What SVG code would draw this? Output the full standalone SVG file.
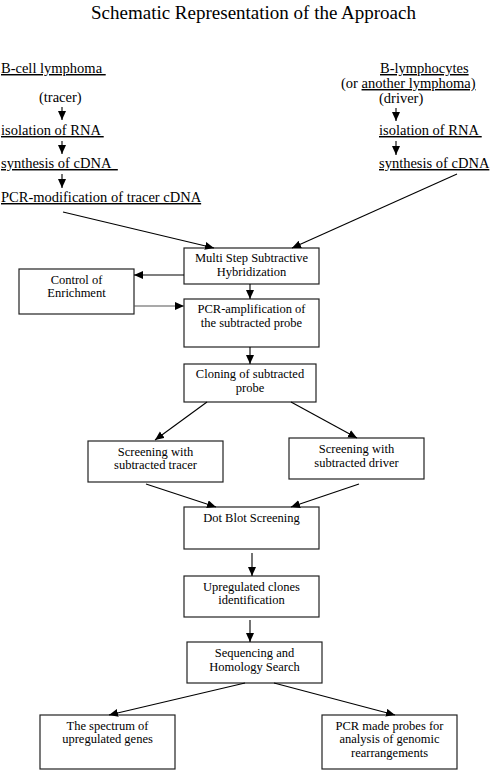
<svg xmlns="http://www.w3.org/2000/svg" width="492" height="771" viewBox="0 0 492 771">
<defs>
<marker id="ah" markerWidth="10" markerHeight="10" refX="9" refY="4" orient="auto" markerUnits="userSpaceOnUse">
<path d="M0,0 L9,4 L0,8 Z" fill="#000"/>
</marker>
<style>
text{font-family:"Liberation Serif","Times New Roman",serif;fill:#000}
.title{font-size:19px;font-family:"Liberation Serif","Times New Roman",serif}
.top{font-size:14.5px;font-family:"Liberation Serif","Times New Roman",serif}
.u{text-decoration:underline}
.bx{font-size:12.5px;text-anchor:middle;font-family:"Liberation Serif","Times New Roman",serif}
rect{fill:#fff;stroke:#222;stroke-width:1.2}
.c line{stroke:#000;stroke-width:1.1;marker-end:url(#ah)}
</style>
</defs>
<rect x="0" y="0" width="492" height="771" style="stroke:none"/>
<text class="title" x="253.5" y="19" text-anchor="middle">Schematic Representation of the Approach</text>

<g id="tracer-col">
<text class="top u" x="1" y="73" xml:space="preserve">B-cell lymphoma </text>
<text class="top" x="39" y="102">(tracer)</text>
<text class="top u" x="1" y="135" xml:space="preserve">isolation of RNA </text>
<text class="top u" x="1" y="168" xml:space="preserve">synthesis of cDNA  </text>
<text class="top u" x="1" y="202">PCR-modification of tracer cDNA</text>
</g>
<g id="driver-col">
<text class="top u" x="380" y="73">B-lymphocytes</text>
<text class="top" x="341" y="88">(or <tspan class="u">another lymphoma)</tspan></text>
<text class="top" x="379" y="103">(driver)</text>
<text class="top u" x="379" y="135" xml:space="preserve">isolation of RNA </text>
<text class="top u" x="379" y="168">synthesis of cDNA</text>
</g>

<g id="multi"><rect x="184" y="248" width="135" height="36"/><text class="bx" x="251.5" y="262">Multi Step Subtractive</text><text class="bx" x="251.5" y="276">Hybridization</text></g>
<g id="control"><rect x="19" y="269" width="115" height="45"/><text class="bx" x="76.5" y="284">Control of</text><text class="bx" x="76.5" y="297">Enrichment</text></g>
<g id="pcramp"><rect x="184" y="299" width="135" height="48"/><text class="bx" x="251.5" y="313">PCR-amplification of</text><text class="bx" x="251.5" y="327">the subtracted probe</text></g>
<g id="cloning"><rect x="184" y="364" width="132" height="38"/><text class="bx" x="250" y="378">Cloning of subtracted</text><text class="bx" x="250" y="392">probe</text></g>
<g id="scr-tracer"><rect x="88" y="441" width="135" height="41"/><text class="bx" x="155.5" y="456">Screening with</text><text class="bx" x="155.5" y="469">subtracted tracer</text></g>
<g id="scr-driver"><rect x="289" y="438" width="135" height="41"/><text class="bx" x="356.5" y="453">Screening with</text><text class="bx" x="356.5" y="467">subtracted driver</text></g>
<g id="dotblot"><rect x="184" y="507" width="135" height="42"/><text class="bx" x="251.5" y="522">Dot Blot Screening</text></g>
<g id="upreg"><rect x="184" y="576" width="135" height="41"/><text class="bx" x="251.5" y="591">Upregulated clones</text><text class="bx" x="251.5" y="604">identification</text></g>
<g id="seq"><rect x="187" y="642" width="135" height="41"/><text class="bx" x="254.5" y="657">Sequencing and</text><text class="bx" x="254.5" y="671">Homology Search</text></g>
<g id="spectrum"><rect x="40" y="715" width="135" height="54"/><text class="bx" x="107.5" y="730">The spectrum of</text><text class="bx" x="107.5" y="743">upregulated genes</text></g>
<g id="pcrmade"><rect x="322" y="715" width="135" height="54"/><text class="bx" x="389.5" y="730">PCR made probes for</text><text class="bx" x="389.5" y="743">analysis of genomic</text><text class="bx" x="389.5" y="757">rearrangements</text></g>

<g id="connectors" class="c">
<line x1="62" y1="107" x2="62" y2="120"/>
<line x1="62" y1="141" x2="62" y2="154"/>
<line x1="62" y1="174" x2="62" y2="188"/>
<line x1="396" y1="108" x2="396" y2="121"/>
<line x1="396" y1="141" x2="396" y2="155"/>
<line x1="63" y1="212" x2="214" y2="248"/>
<line x1="457" y1="174" x2="292" y2="248"/>
<line x1="184" y1="275" x2="134" y2="275"/>
<line x1="134" y1="306" x2="184" y2="306" style="stroke:#555"/>
<line x1="250" y1="284" x2="250" y2="299"/>
<line x1="250" y1="347" x2="250" y2="364"/>
<line x1="207" y1="402" x2="155" y2="440"/>
<line x1="291" y1="402" x2="357" y2="438"/>
<line x1="146" y1="484" x2="216" y2="507"/>
<line x1="359" y1="484" x2="291" y2="507"/>
<line x1="252" y1="553" x2="252" y2="576"/>
<line x1="250" y1="620" x2="250" y2="642"/>
<line x1="245" y1="683" x2="109" y2="715"/>
<line x1="274" y1="683" x2="395" y2="715"/>
</g>
</svg>
